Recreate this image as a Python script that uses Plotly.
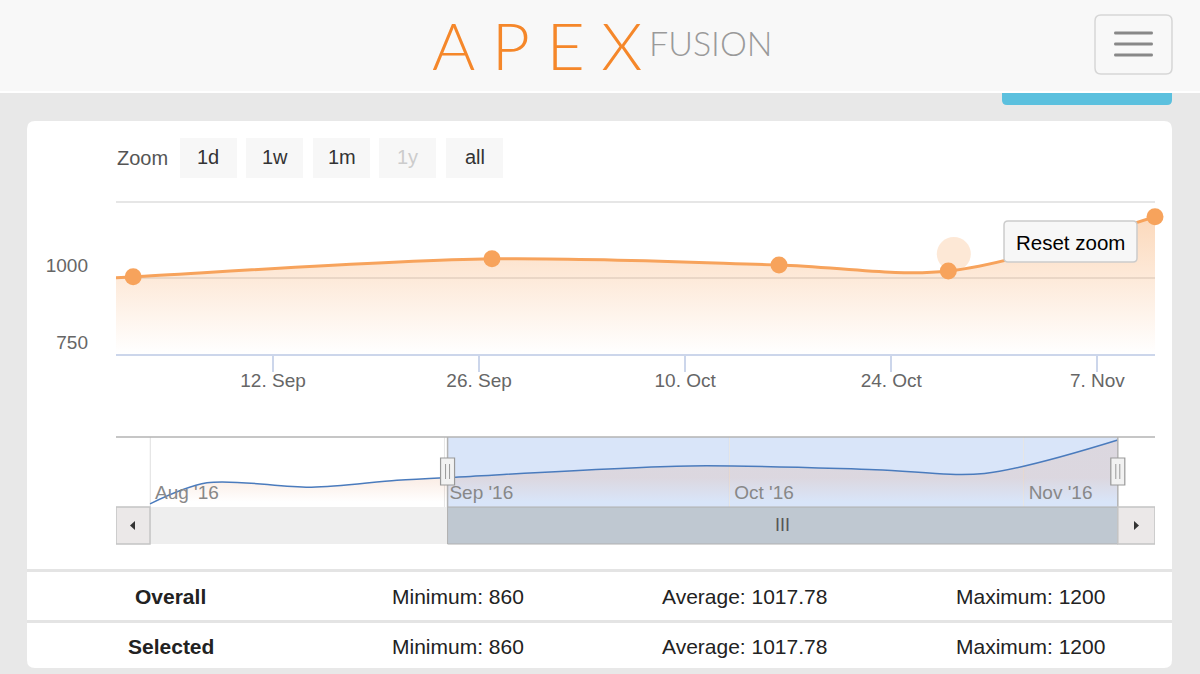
import plotly.graph_objects as go
import pandas as pd

# ---------------- data ----------------
dates = ["2016-08-01", "2016-08-07", "2016-08-18", "2016-08-27", "2016-09-02 12:00",
         "2016-09-26 21:00", "2016-10-16 09:00", "2016-10-27 21:00", "2016-11-10 22:00"]
values = [860, 972, 948, 985, 1003, 1062, 1042, 1022, 1200]

selected_range = ["2016-09-01 08:00", "2016-11-10 22:00"]
nav_range = ["2016-07-28 10:00", "2016-11-14 20:00"]

main_tick_dates = ["2016-09-12", "2016-09-26", "2016-10-10", "2016-10-24", "2016-11-07"]
main_tick_labels = ["12. Sep", "26. Sep", "10. Oct", "24. Oct", "7. Nov"]
y_tick_vals = [750, 1000, 1250]
y_tick_labels = ["750", "1000", ""]

nav_tick_dates = ["2016-08-01", "2016-09-01", "2016-10-01", "2016-11-01"]
nav_tick_labels = ["Aug '16", "Sep '16", "Oct '16", "Nov '16"]

halo_date = ["2016-10-28 06:00"]
halo_value = [1078]

zoom_buttons = ["1d", "1w", "1m", "1y", "all"]
zoom_disabled = ["1y"]

stat_rows = ["Overall", "Selected"]
stat_min = ["860", "860"]
stat_avg = ["1017.78", "1017.78"]
stat_max = ["1200", "1200"]

# ---------------- helpers ----------------
W, H = 1200, 674
FONT = "Liberation Sans"


def px(x):
    return x / W


def py(y):
    return 1 - y / H


def P(x, y):
    return f"{px(x):.5f},{py(y):.5f}"


def rrect(x0, y0, x1, y1, r=(0, 0, 0, 0)):
    tl, tr, br, bl = r
    return (f"M {P(x0 + tl, y0)} L {P(x1 - tr, y0)} Q {P(x1, y0)} {P(x1, y0 + tr)} "
            f"L {P(x1, y1 - br)} Q {P(x1, y1)} {P(x1 - br, y1)} "
            f"L {P(x0 + bl, y1)} Q {P(x0, y1)} {P(x0, y1 - bl)} "
            f"L {P(x0, y0 + tl)} Q {P(x0, y0)} {P(x0 + tl, y0)} Z")


shapes = []
annotations = []


def box(x0, y0, x1, y1, fill, line=None, lw=0, r=(0, 0, 0, 0), layer="below"):
    shapes.append(dict(type="path", xref="paper", yref="paper", path=rrect(x0, y0, x1, y1, r),
                       fillcolor=fill, line=dict(color=line or fill, width=lw), layer=layer))


def text(x, y, s, size=20, color="#333", xanchor="center", weight=None, family=FONT):
    f = dict(size=size, color=color, family=family)
    if weight:
        f["weight"] = weight
    annotations.append(dict(xref="paper", yref="paper", x=px(x), y=py(y), text=s, showarrow=False,
                            xanchor=xanchor, yanchor="middle", font=f))


# ---------------- page chrome ----------------
box(0, 0, 1200, 91, "#f8f8f8")
box(0, 91, 1200, 93, "#ffffff")
box(1002, 93, 1172, 105, "#5bc0de", r=(0, 0, 5, 5))
box(1095, 15, 1172, 74, "#f8f8f8", line="#d6d6d6", lw=1.5, r=(6, 6, 6, 6))
for yb in [33, 44, 55]:
    box(1114, yb - 1.5, 1153, yb + 1.5, "#888888", r=(1.5, 1.5, 1.5, 1.5))
text(537, 44, "A\u2005P\u2005E\u2005X", size=66, color="#f5872a", weight=300, family="Lato")
text(647, 42, "FUSION", size=34, color="#9a9a9a", xanchor="left", weight=300, family="Lato")

# card
box(27, 121, 1172, 668, "#ffffff", r=(8, 8, 8, 8))

# zoom selector
text(142, 158, "Zoom", size=20, color="#555")
btn_x = [180, 246, 313, 379, 446]
for bx, lab in zip(btn_x, zoom_buttons):
    box(bx, 138, bx + 57, 178, "#f7f7f7")
    text(bx + 28.5, 157, lab, size=20, color="#cccccc" if lab in zoom_disabled else "#333333")

# stats table
box(27, 569, 1172, 572, "#e4e4e4")
box(27, 620, 1172, 623, "#e4e4e4")
for i, row in enumerate(stat_rows):
    yy = 596 + 50 * i
    text(171, yy, f"<b>{row}</b>", size=21, color="#222")
    text(458, yy, f"Minimum: {stat_min[i]}", size=21, color="#222")
    text(744, yy, f"Average: {stat_avg[i]}", size=21, color="#222")
    text(1030, yy, f"Maximum: {stat_max[i]}", size=21, color="#222")

# reset zoom button
box(1004, 221, 1137, 262, "#f7f7f7", line="#cccccc", lw=1.5, r=(4, 4, 4, 4), layer="above")
text(1070.5, 242, "Reset zoom", size=20.5, color="#000")

# ---------------- navigator decorations ----------------
# mask over selected range
shapes.append(dict(type="rect", xref="x2", yref="y2 domain", x0=selected_range[0], x1=selected_range[1],
                   y0=0, y1=1, fillcolor="rgba(102,153,230,0.25)", line=dict(width=0), layer="below"))
# navigator grid lines over the mask
for d in nav_tick_dates:
    shapes.append(dict(type="line", xref="x2", yref="y2 domain", x0=d, x1=d, y0=0, y1=1,
                       line=dict(color="rgba(0,0,0,0.06)", width=1), layer="below"))
# top outline
shapes.append(dict(type="line", xref="paper", yref="paper", x0=px(116), x1=px(1155), y0=py(437), y1=py(437),
                   line=dict(color="#b3b3b3", width=1.5), layer="above"))
for d in selected_range:
    shapes.append(dict(type="line", xref="x2", yref="paper", x0=d, x1=d, y0=py(437), y1=py(544),
                       line=dict(color="#b3b3b3", width=1.5), layer="above"))

# scrollbar
nav_start = dates[0]
shapes.append(dict(type="rect", xref="x2", yref="paper", x0=nav_start, x1=selected_range[1],
                   y0=py(544), y1=py(507), fillcolor="#eeeeee", line=dict(width=0), layer="above"))
shapes.append(dict(type="rect", xref="x2", yref="paper", x0=selected_range[0], x1=selected_range[1],
                   y0=py(544), y1=py(507), fillcolor="#bfc8d1", line=dict(color="#b0b0b0", width=1), layer="above"))
shapes.append(dict(type="rect", xref="x2", yref="paper", x0=nav_range[0], x1=nav_start,
                   y0=py(544), y1=py(507), fillcolor="#ebe8e8", line=dict(color="#c4c4c4", width=1.5), layer="above"))
shapes.append(dict(type="rect", xref="x2", yref="paper", x0=selected_range[1], x1=nav_range[1],
                   y0=py(544), y1=py(507), fillcolor="#ebe8e8", line=dict(color="#c4c4c4", width=1.5), layer="above"))
shapes.append(dict(type="path", xref="paper", yref="paper",
                   path=f"M {P(130, 525.5)} L {P(135, 521)} L {P(135, 530)} Z",
                   fillcolor="#333", line=dict(width=0), layer="above"))
shapes.append(dict(type="path", xref="paper", yref="paper",
                   path=f"M {P(1139, 525.5)} L {P(1134, 521)} L {P(1134, 530)} Z",
                   fillcolor="#333", line=dict(width=0), layer="above"))
mid = pd.Timestamp(selected_range[0]) + (pd.Timestamp(selected_range[1]) - pd.Timestamp(selected_range[0])) / 2
annotations.append(dict(xref="x2", yref="paper", x=mid, y=py(525), text="III", showarrow=False,
                        yanchor="middle", font=dict(size=18, color="#555", family=FONT)))

# handles
for d in selected_range:
    shapes.append(dict(type="rect", xref="x2", yref="paper", xsizemode="pixel", xanchor=d, x0=-7, x1=7,
                       y0=py(485), y1=py(458), fillcolor="#f2f2f2", line=dict(color="#999999", width=1.2),
                       layer="above"))
    for off in (-2, 2):
        shapes.append(dict(type="line", xref="x2", yref="paper", xsizemode="pixel", xanchor=d, x0=off, x1=off,
                           y0=py(479), y1=py(464), line=dict(color="#999999", width=1), layer="above"))

# ---------------- traces ----------------
fig = go.Figure()
fig.add_trace(go.Scatter(x=halo_date, y=halo_value, mode="markers", xaxis="x", yaxis="y",
                         marker=dict(size=34, color="rgba(247,163,92,0.25)"), hoverinfo="skip"))
fig.add_trace(go.Scatter(
    x=dates, y=values, mode="lines+markers", xaxis="x", yaxis="y",
    line=dict(color="#f7a35c", width=3, shape="spline", smoothing=0.9),
    marker=dict(size=17, color="#f7a35c"),
    fill="tozeroy",
    fillgradient=dict(type="vertical", start=750, stop=1200,
                      colorscale=[[0, "rgba(247,163,92,0)"], [1, "rgba(247,163,92,0.42)"]]),
    cliponaxis=False))
fig.add_trace(go.Scatter(
    x=dates, y=values, mode="lines", xaxis="x2", yaxis="y2",
    line=dict(color="#4a7bbd", width=1.5, shape="spline", smoothing=0.9),
    fill="tozeroy",
    fillgradient=dict(type="vertical", start=870, stop=1000,
                      colorscale=[[0, "rgba(230,160,120,0)"], [1, "rgba(230,160,120,0.2)"]])))

main_dom_x = [px(116), px(1155)]
fig.update_layout(
    width=W, height=H, margin=dict(l=0, r=0, t=0, b=0),
    paper_bgcolor="#e8e8e8", plot_bgcolor="rgba(0,0,0,0)",
    showlegend=False, hovermode=False,
    font=dict(family=FONT),
    xaxis=dict(domain=main_dom_x, type="date", range=selected_range, anchor="y",
               tickmode="array", tickvals=main_tick_dates, ticktext=main_tick_labels,
               ticks="outside", ticklen=16, tickwidth=1.5, tickcolor="#ccd6eb",
               ticklabelstandoff=-8,
               showline=True, linecolor="#ccd6eb", linewidth=1.5, showgrid=False, zeroline=False,
               tickfont=dict(size=19, color="#666666", family=FONT)),
    yaxis=dict(domain=[py(354), py(200)], range=[750, 1255], anchor="x",
               tickmode="array", tickvals=y_tick_vals, ticktext=y_tick_labels,
               showgrid=True, gridcolor="#e6e6e6", gridwidth=1.5, zeroline=False, showline=False,
               ticklabelshift=-12, ticklabelstandoff=27,
               tickfont=dict(size=19, color="#666666", family=FONT)),
    xaxis2=dict(domain=main_dom_x, type="date", range=nav_range, anchor="y2",
                tickmode="array", tickvals=nav_tick_dates, ticktext=nav_tick_labels,
                ticklabelposition="inside right", ticks="", ticklabelshift=5, ticklabelstandoff=-2,
                showgrid=True, gridcolor="#e6e6e6", gridwidth=1, zeroline=False, showline=False,
                tickfont=dict(size=19, color="#888888", family=FONT)),
    yaxis2=dict(domain=[py(507), py(437)], range=[843, 1216], anchor="x2",
                showticklabels=False, showgrid=False, zeroline=False, showline=False),
    shapes=shapes, annotations=annotations,
)

fig.write_html("out.html")
